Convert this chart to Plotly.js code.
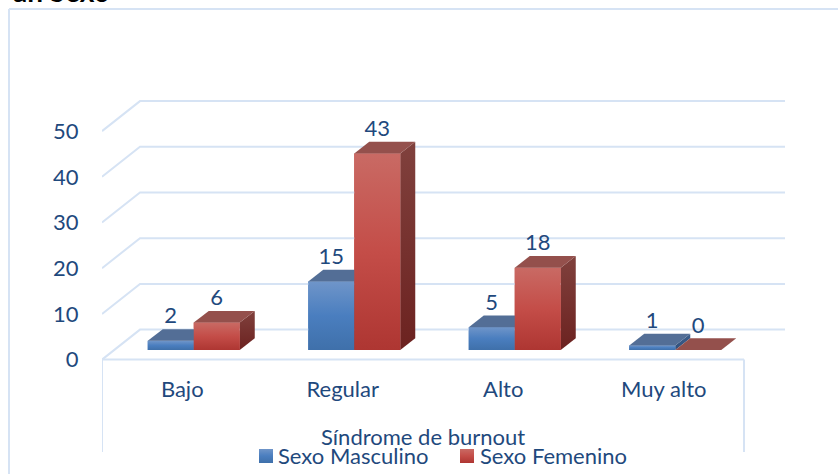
<!DOCTYPE html>
<html>
<head>
<meta charset="utf-8">
<script src="https://cdn.plot.ly/plotly-3.0.1.min.js"></script>
<style>html,body{margin:0;padding:0;background:#fff;overflow:hidden;height:474px}</style>
</head>
<body>
<div id="chart" style="width:838px;height:514px"></div>
<script>
const categories = ['Bajo', 'Regular', 'Alto', 'Muy alto'];
const masculino = [2, 15, 5, 1];
const femenino = [6, 43, 18, 0];
const yTicks = [0, 10, 20, 30, 40, 50];
const axisTitle = 'Síndrome de burnout';
const seriesNames = ['Sexo Masculino', 'Sexo Femenino'];

const W = 838, H = 474, L = 102, R = 785, T = 90, floorPx = 359.6, pxPerUnit = 4.57, catPx = 160.5;
const xPx = p => -0.5 + (p - L) / catPx;
const yPx = p => (floorPx - p) / pxPerUnit;
const dX = px => px / catPx, dY = px => px / pxPerUnit;
const fs = 22;

const textColor = '#1F497D', gridColor = '#D6E3F4', font = 'Lato, sans-serif';
const baseY = dY(9.6), barW = dX(46), depthX = dX(15), depthY = dY(11.7), shift = dX(11.5);
const wallX = dX(38), wallY = dY(30), labelGap = dY(23);

const palettes = [
  {front:[[0,'#3F70AA'],[0.5,'#4A7EBF'],[1,'#6F95C9']], top:'#536E96', side:[[0,'#2F4F7C'],[1,'#3D5F8C']], solid:'#4A7EBF'},
  {front:[[0,'#AE3632'],[0.5,'#C44D48'],[1,'#C96A64']], top:'#94504C', side:[[0,'#6C2220'],[1,'#80413D']], solid:'#C44D48'}
];

const traces = [];
yTicks.forEach(v => traces.push({
  type:'scatter', mode:'lines', showlegend:false, hoverinfo:'skip',
  x:[-0.5, -0.5 + wallX, xPx(R)], y:[v, v + wallY, v + wallY],
  line:{color:gridColor, width:2}
}));
[masculino, femenino].forEach((vals, s) => traces.push({
  type:'bar', name:seriesNames[s], showlegend:false, hoverinfo:'skip',
  x:categories.map((c, i) => i + shift), y:vals, base:vals.map(() => baseY),
  marker:{color:palettes[s].solid}
}));
function poly(xs, ys, fill) {
  const t = {type:'scatter', mode:'lines', showlegend:false, hoverinfo:'skip', x:xs, y:ys, fill:'toself', line:{width:0, color:'rgba(0,0,0,0)'}};
  if (typeof fill === 'string') t.fillcolor = fill;
  else t.fillgradient = {type:'vertical', colorscale:fill};
  return t;
}
categories.forEach((c, i) => {
  [masculino, femenino].forEach((vals, s) => {
    const x0 = i + shift + (s - 1) * barW, x1 = x0 + barW, y0 = baseY, y1 = baseY + vals[i];
    const p = palettes[s];
    traces.push(poly([x1, x1 + depthX, x1 + depthX, x1, x1], [y0, y0 + depthY, y1 + depthY, y1, y0], p.side));
    if (vals[i] > 0) traces.push(poly([x0, x1, x1, x0, x0], [y0, y0, y1, y1, y0], p.front));
    traces.push(poly([x0, x1, x1 + depthX, x0 + depthX, x0], [y1, y1, y1 + depthY, y1 + depthY, y1], p.top));
  });
});
[masculino, femenino].forEach((vals, s) => traces.push({
  type:'scatter', mode:'text', showlegend:false, hoverinfo:'skip',
  x:categories.map((c, i) => i + shift + (s - 0.5) * barW),
  y:vals.map(v => baseY + v + labelGap),
  text:vals.map(String), textposition:'middle center',
  textfont:{family:font, size:fs, color:textColor}
}));
[259, 460].forEach((p, s) => {
  const xs = [xPx(p), xPx(p + 14), xPx(p + 14), xPx(p), xPx(p)];
  const ys = [yPx(463), yPx(463), yPx(449), yPx(449), yPx(463)];
  traces.push(poly(xs, ys, palettes[s].front));
});
seriesNames.forEach(n => traces.push({
  type:'scatter', mode:'markers', name:n, x:[null], y:[null], hoverinfo:'skip',
  marker:{color:'rgba(0,0,0,0)', size:1}
}));

const vline = p => ({type:'line', xref:'x', yref:'y', x0:xPx(p), x1:xPx(p), y0:0, y1:yPx(452), line:{color:gridColor, width:2}, layer:'below'});
const px = p => (p - L) / (R - L), py = p => (H - p) / (H - T);
const layout = {
  width:W, height:H + 40, margin:{l:L, r:W - R, t:T, b:40}, paper_bgcolor:'#fff', plot_bgcolor:'#fff',
  font:{family:font, size:fs, color:textColor}, barmode:'group', bargap:1 - 2 * barW, bargroupgap:0,
  showlegend:true,
  legend:{orientation:'h', x:px(238), xanchor:'left', y:py(456), yanchor:'middle',
          bgcolor:'rgba(0,0,0,0)', borderwidth:0, entrywidth:157, entrywidthmode:'pixels',
          font:{family:font, size:fs, color:textColor}, traceorder:'normal'},
  xaxis:{range:[xPx(L), xPx(R)], tickmode:'array', tickvals:categories.map((c, i) => i), ticktext:categories,
         anchor:'free', position:py(floorPx), showgrid:false, zeroline:false, showline:false,
         ticks:'outside', ticklen:10, tickcolor:'rgba(0,0,0,0)', fixedrange:true,
         tickfont:{family:font, size:fs, color:textColor}},
  yaxis:{range:[yPx(H), yPx(T)], tickmode:'array', tickvals:yTicks, ticktext:yTicks.map(String),
         showgrid:false, zeroline:false, showline:false, ticks:'outside', ticklen:18, tickcolor:'rgba(0,0,0,0)',
         fixedrange:true, tickfont:{family:font, size:fs, color:textColor}},
  shapes:[
    {type:'line', xref:'paper', yref:'paper', x0:px(9), x1:px(W + 5), y0:py(9), y1:py(9), line:{color:gridColor, width:2}},
    {type:'line', xref:'paper', yref:'paper', x0:px(9), x1:px(9), y0:py(H + 5), y1:py(9), line:{color:gridColor, width:2}},
    {type:'line', xref:'x', yref:'y', x0:xPx(L), x1:xPx(744), y0:0, y1:0, line:{color:gridColor, width:2}},
    vline(L), vline(744)
  ],
  annotations:[
    {xref:'x', yref:'y', x:xPx(423), y:yPx(436), xanchor:'center', yanchor:'middle', showarrow:false, text:axisTitle, font:{family:font, size:fs, color:textColor}},
    {xref:'paper', yref:'paper', x:px(112), y:py(10), xanchor:'right', yanchor:'bottom', showarrow:false, text:'<b>an Sexo</b>', font:{family:font, size:28, color:'#000'}}
  ]
};
Plotly.newPlot('chart', traces, layout, {displayModeBar:false, staticPlot:true});
</script>
</body>
</html>
